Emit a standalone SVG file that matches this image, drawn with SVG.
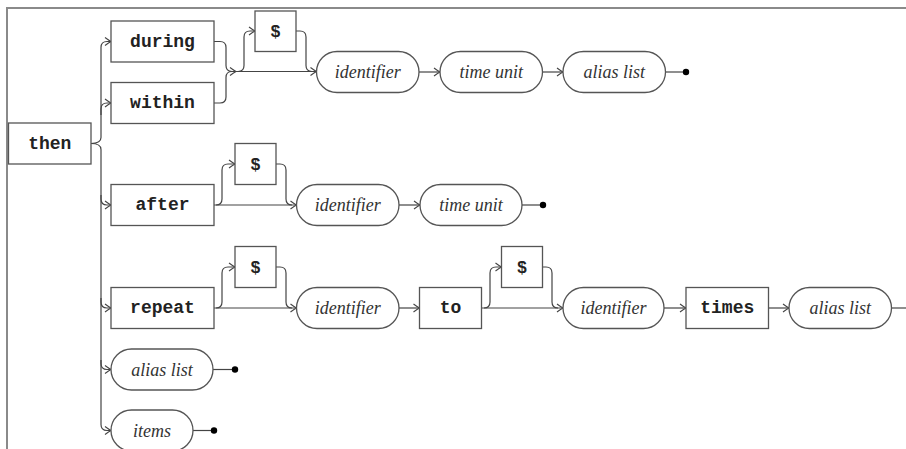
<svg xmlns="http://www.w3.org/2000/svg" width="906" height="449" viewBox="0 0 906 449">
<style>
.frame{fill:none;stroke:#8a8a8a;stroke-width:2}
.box{fill:#fff;stroke:#555;stroke-width:1.3}
.kw{font-family:"Liberation Mono",monospace;font-weight:bold;font-size:18px;fill:#222;text-anchor:middle;dominant-baseline:central}
.dl{font-family:"Liberation Sans",Arial,sans-serif;font-weight:bold;font-size:17px;fill:#222;text-anchor:middle;dominant-baseline:central}
.nt{font-family:"Liberation Serif",serif;font-style:italic;font-size:18px;fill:#333;text-anchor:middle;dominant-baseline:central}
.ln{fill:none;stroke:#444;stroke-width:1.2}
.dot{fill:#000}
</style>
<defs>
<marker id="ar" markerUnits="userSpaceOnUse" markerWidth="10" markerHeight="10" viewBox="-8 -5 10 10" refX="0" refY="0" orient="auto">
<path d="M-6,-4 Q-2,-1 0,0 Q-2,1 -6,4" fill="none" stroke="#444" stroke-width="1.1"/>
</marker>
</defs>
<path class="frame" d="M7,449 V8 H906"/>
<g id="connectors">
<path class="ln" d="M91,143.5 Q101,143.5 101,137.5 V47.5 Q101,41.5 107,41.5 H111" marker-end="url(#ar)"/>
<path class="ln" d="M101,115 V109 Q101,103 107,103 H111" marker-end="url(#ar)"/>
<path class="ln" d="M91,143.5 Q101,143.5 101,149.5 V424.5 Q101,430.5 107,430.5 H111" marker-end="url(#ar)"/>
<path class="ln" d="M101,195 V199 Q101,205 107,205 H111" marker-end="url(#ar)"/>
<path class="ln" d="M101,298 V302 Q101,308 107,308 H111" marker-end="url(#ar)"/>
<path class="ln" d="M101,360 V363.5 Q101,369.5 107,369.5 H111" marker-end="url(#ar)"/>
<!-- row 1 -->
<path class="ln" d="M214,41.5 H220 Q226,41.5 226,47.5 V65.5 Q226,71.5 232,71.5 H236" marker-end="url(#ar)"/>
<path class="ln" d="M214,103 H220 Q226,103 226,97 V77.5 Q226,71.5 232,71.5"/>
<path class="ln" d="M236,71.5 H316.5" marker-end="url(#ar)"/>
<path class="ln" d="M238,71.5 Q244,71.5 244,65.5 V37 Q244,31 250,31 H255" marker-end="url(#ar)"/>
<path class="ln" d="M296,31 H300 Q306,31 306,37 V65.5 Q306,71.5 312,71.5"/>
<path class="ln" d="M419,72 H440" marker-end="url(#ar)"/>
<path class="ln" d="M542,72 H563" marker-end="url(#ar)"/>
<path class="ln" d="M665.5,72 H686"/>
<circle class="dot" cx="686" cy="72" r="3.2"/>
<!-- row 2 -->
<path class="ln" d="M214,205 H296.5" marker-end="url(#ar)"/>
<path class="ln" d="M216,205 Q222,205 222,199 V170 Q222,164 228,164 H235" marker-end="url(#ar)"/>
<path class="ln" d="M276,164 H280 Q286,164 286,170 V199 Q286,205 292,205"/>
<path class="ln" d="M399,205 H420" marker-end="url(#ar)"/>
<path class="ln" d="M522,205 H543"/>
<circle class="dot" cx="543" cy="205" r="3.2"/>
<!-- row 3 -->
<path class="ln" d="M214,308 H296.5" marker-end="url(#ar)"/>
<path class="ln" d="M216,308 Q222,308 222,302 V273 Q222,267 228,267 H235" marker-end="url(#ar)"/>
<path class="ln" d="M276,267 H280 Q286,267 286,273 V302 Q286,308 292,308"/>
<path class="ln" d="M399,308 H419.5" marker-end="url(#ar)"/>
<path class="ln" d="M481.5,308 H563" marker-end="url(#ar)"/>
<path class="ln" d="M484,308 Q490,308 490,302 V273 Q490,267 496,267 H501.5" marker-end="url(#ar)"/>
<path class="ln" d="M542.5,267 H546 Q552,267 552,273 V302 Q552,308 558,308"/>
<path class="ln" d="M664,308 H686" marker-end="url(#ar)"/>
<path class="ln" d="M768.5,308 H789" marker-end="url(#ar)"/>
<path class="ln" d="M891.5,308 H906"/>
<!-- rows 4,5 -->
<path class="ln" d="M213,369.5 H235"/>
<circle class="dot" cx="235" cy="369.5" r="3.2"/>
<path class="ln" d="M193,430.5 H214"/>
<circle class="dot" cx="214" cy="430.5" r="3.2"/>
</g>
<g id="then"><rect class="box" x="8.5" y="123" width="82.5" height="41"/><text class="kw" x="49.75" y="143.5">then</text></g>
<g id="during"><rect class="box" x="111" y="21" width="103" height="41"/><text class="kw" x="162.5" y="41.5">during</text></g>
<g id="within"><rect class="box" x="111" y="82.5" width="103" height="41"/><text class="kw" x="162.5" y="103">within</text></g>
<g id="dollar1"><rect class="box" x="255" y="11" width="41" height="40.5"/><text class="dl" x="275.5" y="31">$</text></g>
<g id="identifier1"><rect class="box" x="316.5" y="51.5" width="102.5" height="41" rx="20.5"/><text class="nt" x="367.75" y="72">identifier</text></g>
<g id="timeunit1"><rect class="box" x="440" y="51.5" width="102.5" height="41" rx="20.5"/><text class="nt" x="491.25" y="72">time unit</text></g>
<g id="aliaslist1"><rect class="box" x="563" y="51.5" width="102.5" height="41" rx="20.5"/><text class="nt" x="614.25" y="72">alias list</text></g>
<g id="after"><rect class="box" x="111" y="184.5" width="103" height="41"/><text class="kw" x="162.5" y="205">after</text></g>
<g id="dollar2"><rect class="box" x="235" y="143.5" width="41" height="41"/><text class="dl" x="255.5" y="164">$</text></g>
<g id="identifier2"><rect class="box" x="296.5" y="184.5" width="102.5" height="41" rx="20.5"/><text class="nt" x="347.75" y="205">identifier</text></g>
<g id="timeunit2"><rect class="box" x="420" y="184.5" width="102" height="41" rx="20.5"/><text class="nt" x="471" y="205">time unit</text></g>
<g id="repeat"><rect class="box" x="111" y="287.5" width="103" height="41"/><text class="kw" x="162.5" y="308">repeat</text></g>
<g id="dollar3"><rect class="box" x="235" y="246.5" width="41" height="41"/><text class="dl" x="255.5" y="267">$</text></g>
<g id="identifier3"><rect class="box" x="296.5" y="287.5" width="102.5" height="41" rx="20.5"/><text class="nt" x="347.75" y="308">identifier</text></g>
<g id="to"><rect class="box" x="419.5" y="287.5" width="62" height="41"/><text class="kw" x="450.5" y="308">to</text></g>
<g id="dollar4"><rect class="box" x="501.5" y="246.5" width="41" height="41"/><text class="dl" x="522" y="267">$</text></g>
<g id="identifier4"><rect class="box" x="563" y="287.5" width="101" height="41" rx="20.5"/><text class="nt" x="613.5" y="308">identifier</text></g>
<g id="times"><rect class="box" x="686" y="287.5" width="82.5" height="41"/><text class="kw" x="727.25" y="308">times</text></g>
<g id="aliaslist3"><rect class="box" x="789" y="287.5" width="102.5" height="41" rx="20.5"/><text class="nt" x="840.25" y="308">alias list</text></g>
<g id="aliaslist4"><rect class="box" x="111" y="349" width="102" height="41" rx="20.5"/><text class="nt" x="162" y="369.5">alias list</text></g>
<g id="items"><rect class="box" x="111" y="410" width="82" height="41" rx="20.5"/><text class="nt" x="152" y="430.5">items</text></g>
</svg>
